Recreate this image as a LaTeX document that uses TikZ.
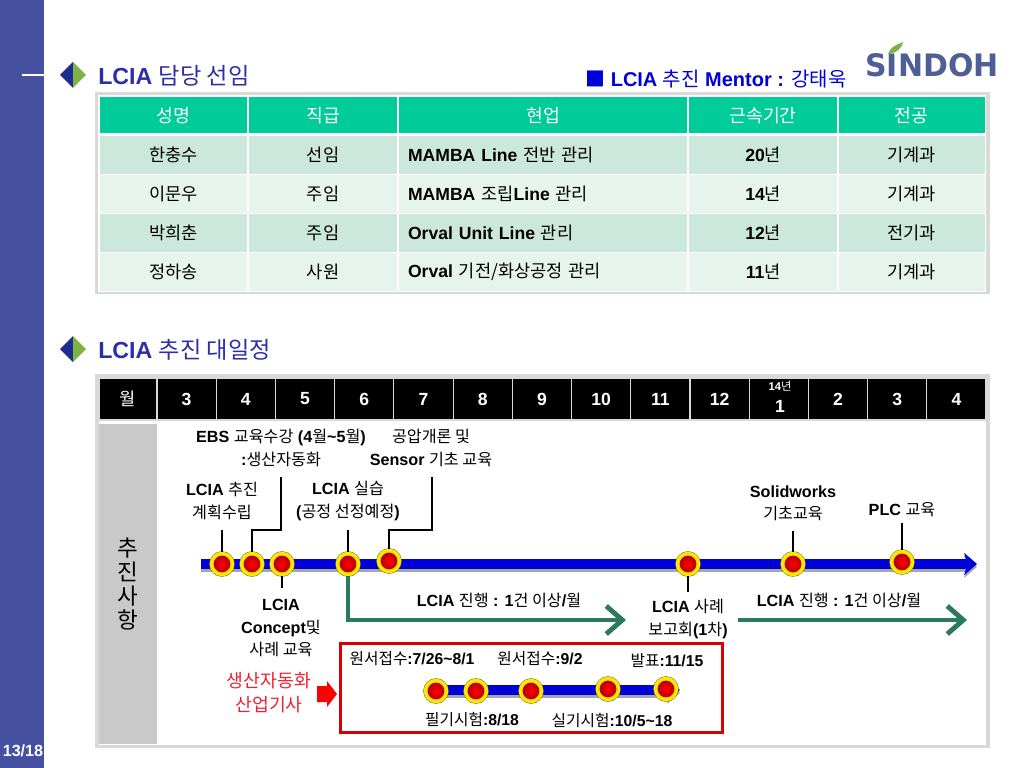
\documentclass[tikz,border=0pt]{standalone}
\usepackage{xcolor}
\usepackage{fontspec}
\setmainfont{Liberation Sans}
\newfontfamily\krfont{Noto Sans CJK KR}
\newfontfamily\logofont{DejaVu Sans}
\newcommand{\kr}[1]{{\krfont\mdseries #1}}
\usepackage{tikz}
\usetikzlibrary{positioning,arrows.meta}
\definecolor{sidebar}{HTML}{4650A0}
\definecolor{titleblue}{HTML}{2E2EA8}
\definecolor{navy}{HTML}{1E2E90}
\definecolor{headgreen}{HTML}{00CC99}
\definecolor{rowdark}{HTML}{CCE8DD}
\definecolor{rowlight}{HTML}{E7F4EE}
\definecolor{framegray}{HTML}{D9D9D9}
\definecolor{arrowgreen}{HTML}{2C7A5C}
\definecolor{logoblue}{HTML}{4D5F96}
\definecolor{leafgreen}{HTML}{7CB342}
\definecolor{examred}{HTML}{EE2233}

\begin{document}
\begin{tikzpicture}[
    x=0.025cm, y=-0.025cm,
    frame/.style={rectangle, draw=framegray, line width=2.5pt, fill=white, minimum width=22.26cm, outer sep=0pt},
    cellbase/.style={rectangle, draw=white, line width=1pt, outer sep=0pt, inner sep=0pt, minimum height=0.975cm, align=center, font=\fontsize{12.5}{15}\selectfont\bfseries},
    headcell/.style={cellbase, fill=headgreen, text=white, minimum height=0.9625cm, font=\fontsize{13}{15}\selectfont\bfseries},
    darkcell/.style={cellbase, fill=rowdark},
    lightcell/.style={cellbase, fill=rowlight},
    workleft/.style={inner xsep=0.25cm, text width=6.75cm, align=left},
    monthcell/.style={rectangle, draw=framegray, line width=0.8pt, fill=black, text=white, outer sep=0pt, inner sep=0pt, minimum width=1.48cm, minimum height=1.05cm, align=center, font=\fontsize{12.5}{14}\selectfont\bfseries},
    sidecell/.style={rectangle, fill=black!21, minimum width=1.45cm, minimum height=8cm, align=center, font=\fontsize{16}{17}\selectfont},
    note/.style={align=center, inner sep=0pt, font=\fontsize{11.5}{15.8}\selectfont\bfseries},
    smallnote/.style={align=center, inner sep=0pt, font=\fontsize{11.2}{13}\selectfont\bfseries},
    rednote/.style={align=center, inner sep=0pt, text=examred, font=\fontsize{13}{17}\selectfont},
    title/.style={anchor=west, inner sep=0pt, text=titleblue, font=\fontsize{16.5}{20}\selectfont\bfseries},
    ballmark/.style={circle, draw=yellow!90!orange, line width=2.6pt, inner color=red, outer color=red!65!black, minimum size=0.52cm, inner sep=0pt, preaction={draw=olive!75!black, line width=3.3pt}},
    smallball/.style={ballmark},
    leader/.style={draw=black, line width=1.5pt},
    bluebar/.style={draw=blue!85!black, line width=7pt, -{Stealth[length=0.32cm,width=0.55cm,inset=0.08cm]}},
    barshadow/.style={bluebar, draw=black!35, transform canvas={yshift=-0.07cm}},
    greenarrow/.style={draw=arrowgreen, line width=3.5pt, -{Straight Barb[length=0.4cm,width=0.7cm]}}
]
\useasboundingbox (0,0) rectangle (1024,768);

% Side bar
\fill[sidebar] (0,0) rectangle (44,768);
\draw[white, line width=2pt] (22,75) -- (44,75);
\node[inner sep=0pt, text=white, font=\fontsize{11.5}{14}\selectfont\bfseries] (pagenum) at (23,751) {13/18};

% Titles
\fill[navy] (73,62) -- (60,75) -- (73,88) -- cycle;
\fill[leafgreen] (73,62) -- (86,75) -- (73,88) -- cycle;
\fill[navy] (73,336) -- (60,349) -- (73,362) -- cycle;
\fill[leafgreen] (73,336) -- (86,349) -- (73,362) -- cycle;
\node[title] (title1) at (98,76) {LCIA \kr{담당 선임}};
\node[title] (title2) at (98,350) {LCIA \kr{추진 대일정}};
\node[anchor=west, inner sep=0pt, text=blue!85!black, font=\fontsize{14.2}{17}\selectfont\bfseries] (mentor) at (585,79) {\kr{■} LCIA \kr{추진} Mentor : \kr{강태욱}};

% Logo
\node[inner sep=0pt, text=logoblue, xscale=0.97, font=\fontsize{22}{24}\logofont\bfseries] (logo) at (932,65) {SINDOH};
\fill[leafgreen] (888,54) .. controls (890,47) and (896,45) .. (903,42) .. controls (902,48) and (897,53) .. (888,54) -- cycle;

% Table
\node[frame, minimum height=4.96cm] (tableframe) at (542.5,193.25) {};
\node[headcell, minimum width=3.725cm] (h1) at (173.5,115.25) {\kr{성명}};
\node[headcell, minimum width=3.75cm, right=0pt of h1] (h2) {\kr{직급}};
\node[headcell, minimum width=7.25cm, right=0pt of h2] (h3) {\kr{현업}};
\node[headcell, minimum width=3.75cm, right=0pt of h3] (h4) {\kr{근속기간}};
\node[headcell, minimum width=3.68cm, right=0pt of h4] (h5) {\kr{전공}};

\node[darkcell, minimum width=3.725cm, below=0.02cm of h1] (a1) {\kr{한충수}};
\node[darkcell, minimum width=3.75cm, right=0pt of a1] (a2) {\kr{선임}};
\node[darkcell, workleft, right=0pt of a2] (a3) {MAMBA Line \kr{전반 관리}};
\node[darkcell, minimum width=3.75cm, right=0pt of a3] (a4) {20\kr{년}};
\node[darkcell, minimum width=3.68cm, right=0pt of a4] (a5) {\kr{기계과}};

\node[lightcell, minimum width=3.725cm, below=0pt of a1] (b1) {\kr{이문우}};
\node[lightcell, minimum width=3.75cm, right=0pt of b1] (b2) {\kr{주임}};
\node[lightcell, workleft, right=0pt of b2] (b3) {MAMBA \kr{조립}Line \kr{관리}};
\node[lightcell, minimum width=3.75cm, right=0pt of b3] (b4) {14\kr{년}};
\node[lightcell, minimum width=3.68cm, right=0pt of b4] (b5) {\kr{기계과}};

\node[darkcell, minimum width=3.725cm, below=0pt of b1] (c1) {\kr{박희춘}};
\node[darkcell, minimum width=3.75cm, right=0pt of c1] (c2) {\kr{주임}};
\node[darkcell, workleft, right=0pt of c2] (c3) {Orval Unit Line \kr{관리}};
\node[darkcell, minimum width=3.75cm, right=0pt of c3] (c4) {12\kr{년}};
\node[darkcell, minimum width=3.68cm, right=0pt of c4] (c5) {\kr{전기과}};

\node[lightcell, minimum width=3.725cm, below=0pt of c1] (d1) {\kr{정하송}};
\node[lightcell, minimum width=3.75cm, right=0pt of d1] (d2) {\kr{사원}};
\node[lightcell, workleft, right=0pt of d2] (d3) {Orval \kr{기전/화상공정 관리}};
\node[lightcell, minimum width=3.75cm, right=0pt of d3] (d4) {11\kr{년}};
\node[lightcell, minimum width=3.68cm, right=0pt of d4] (d5) {\kr{기계과}};

\draw[white, line width=2pt] (h1.south west) -- (h5.south east);

% Schedule
\node[frame, minimum height=9.27cm] (planframe) at (542.5,561) {};
\node[monthcell, minimum width=1.45cm] (m0) at (128,399) {\kr{월}};
\node[monthcell, right=0pt of m0] (m1) {3};
\node[monthcell, right=0pt of m1] (m2) {4};
\node[monthcell, right=0pt of m2] (m3) {5};
\node[monthcell, right=0pt of m3] (m4) {6};
\node[monthcell, right=0pt of m4] (m5) {7};
\node[monthcell, right=0pt of m5] (m6) {8};
\node[monthcell, right=0pt of m6] (m7) {9};
\node[monthcell, right=0pt of m7] (m8) {10};
\node[monthcell, right=0pt of m8] (m9) {11};
\node[monthcell, right=0pt of m9] (m10) {12};
\node[monthcell, right=0pt of m10] (m11) {};
\node[monthcell, right=0pt of m11] (m12) {2};
\node[monthcell, right=0pt of m12] (m13) {3};
\node[monthcell, right=0pt of m13] (m14) {4};
\node[inner sep=0pt, text=white, font=\fontsize{8}{9}\selectfont\bfseries] (year) at (780,386) {14\kr{년}};
\node[inner sep=0pt, text=white, font=\fontsize{12.5}{14}\selectfont\bfseries] (jan) at (780,406) {1};
\node[sidecell] (side) at (128,584) {\kr{추}\\\kr{진}\\\kr{사}\\\kr{항}};

% Time lines
\coordinate (bar1) at (201,564);
\coordinate (bar2) at (977,564);
\coordinate (minibar1) at (428,690);
\coordinate (minibar2) at (680,690);
\draw[barshadow] (bar1) -- (bar2);
\draw[bluebar] (bar1) -- (bar2);
\draw[barshadow] (minibar1) -- (minibar2);
\draw[bluebar] (minibar1) -- (minibar2);

% Green arrows
\node[ballmark] (p4) at (348,564) {};
\coordinate (green1) at (626,620);
\coordinate (green2) at (738,620);
\coordinate (green3) at (967,620);
\draw[greenarrow] (p4) |- (green1);
\draw[greenarrow] (green2) -- (green3);

% Marks
\node[ballmark] (p1) at (222,564) {};
\node[ballmark] (p2) at (252,564) {};
\node[ballmark] (p3) at (282,564) {};
\node[ballmark] (p5) at (389,561) {};
\node[ballmark] (p6) at (688,564) {};
\node[ballmark] (p7) at (793,564) {};
\node[ballmark] (p8) at (902,562) {};
\node[smallball] (q1) at (436,691) {};
\node[smallball] (q2) at (476,691) {};
\node[smallball] (q3) at (531,691) {};
\node[smallball] (q4) at (608,689) {};
\node[smallball] (q5) at (666,689) {};

% Leaders
\coordinate (t1) at (222,530);
\coordinate (t2) at (281,477);
\coordinate (t3) at (281,530);
\coordinate (t4) at (282,588);
\coordinate (t5) at (348,530);
\coordinate (t6) at (432,477);
\coordinate (t7) at (432,530);
\coordinate (t8) at (688,592);
\coordinate (t9) at (793,531);
\coordinate (t10) at (902,523);
\draw[leader] (t1) -- (p1);
\draw[leader] (t2) -- (t3) -| (p2);
\draw[leader] (t4) -- (p3);
\draw[leader] (t5) -- (p4);
\draw[leader] (t6) -- (t7) -| (p5);
\draw[leader] (t8) -- (p6);
\draw[leader] (t9) -- (p7);
\draw[leader] (t10) -- (p8);

% Notes
\node[note] (ebs) at (281,448) {EBS \kr{교육수강} (4\kr{월}\textasciitilde5\kr{월})\\:\kr{생산자동화}};
\node[note] (sensor) at (431,448) {\kr{공압개론 및}\\Sensor \kr{기초 교육}};
\node[note] (plan) at (222,501) {LCIA \kr{추진}\\\kr{계획수립}};
\node[note] (prac) at (348,501) {LCIA \kr{실습}\\(\kr{공정 선정예정})};
\node[note] (solid) at (793,503) {Solidworks\\\kr{기초교육}};
\node[note] (plc) at (902,510) {PLC \kr{교육}};
\node[note] (concept) at (281,628) {LCIA\\Concept\kr{및}\\\kr{사례 교육}};
\node[note] (prog1) at (499,600) {LCIA \kr{진행} : 1\kr{건 이상}/\kr{월}};
\node[note] (prog2) at (839,600) {LCIA \kr{진행} : 1\kr{건 이상}/\kr{월}};
\node[note] (report) at (688,619) {LCIA \kr{사례}\\\kr{보고회}(1\kr{차})};

% Exam box
\node[rectangle, draw=red!85!black, line width=1.8pt, minimum width=9.55cm, minimum height=2.225cm, inner sep=0pt] (exambox) at (531.5,688) {};
\node[rednote] (exam) at (269,693) {\kr{생산자동화}\\\kr{산업기사}};
\fill[red] (317,686) -- (327,686) -- (327,681) -- (337,694) -- (327,707) -- (327,702) -- (317,702) -- cycle;
\node[smallnote] (e1) at (412,659) {\kr{원서접수}:7/26\textasciitilde8/1};
\node[smallnote] (e2) at (540,659) {\kr{원서접수}:9/2};
\node[smallnote] (e3) at (667,661) {\kr{발표}:11/15};
\node[smallnote] (e4) at (472,720) {\kr{필기시험}:8/18};
\node[smallnote] (e5) at (612,721) {\kr{실기시험}:10/5\textasciitilde18};

\end{tikzpicture}
\end{document}
